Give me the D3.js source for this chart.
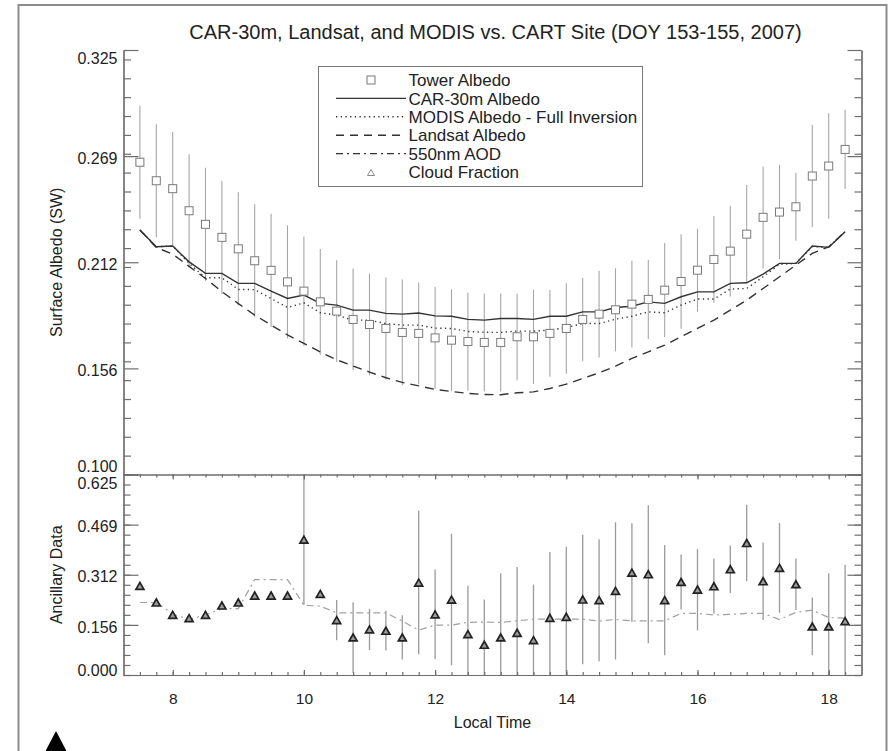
<!DOCTYPE html>
<html>
<head>
<meta charset="utf-8">
<script src="https://cdnjs.cloudflare.com/ajax/libs/d3/7.8.5/d3.min.js"></script>
<style>
    body { margin: 0; background: #fff; }
    text { font-family: "Liberation Sans", Arial, Helvetica, sans-serif; fill: #222; }
</style>
</head>
<body>
<script>
// Albedo comparison at the CART site, two stacked panels sharing local time

// Local time of each sample (hours)
var times = [7.5, 7.75, 8, 8.25, 8.5, 8.75, 9, 9.25, 9.5, 9.75, 10, 10.25, 10.5, 10.75, 11, 11.25,
    11.5, 11.75, 12, 12.25, 12.5, 12.75, 13, 13.25, 13.5, 13.75, 14, 14.25, 14.5, 14.75, 15, 15.25,
    15.5, 15.75, 16, 16.25, 16.5, 16.75, 17, 17.25, 17.5, 17.75, 18, 18.25];

// Top panel series
var towerAlbedo = [0.2655, 0.2557, 0.2515, 0.2398, 0.2326, 0.2257, 0.2196, 0.2133, 0.2082, 0.2021,
    0.1972, 0.1915, 0.1866, 0.1822, 0.1795, 0.1774, 0.1753, 0.1748, 0.1724, 0.1712, 0.1705, 0.1700,
    0.1700, 0.1730, 0.1730, 0.1748, 0.1774, 0.1822, 0.1850, 0.1873, 0.1903, 0.1928, 0.1977, 0.2023,
    0.2083, 0.2140, 0.2184, 0.2274, 0.2363, 0.2391, 0.2419, 0.2582, 0.2635, 0.2723];
var towerError = [0.030, 0.030, 0.030, 0.030, 0.030, 0.030, 0.030, 0.030, 0.030, 0.030,
    0.029, 0.028, 0.027, 0.027, 0.027, 0.027, 0.028, 0.027, 0.027, 0.027, 0.026, 0.026,
    0.026, 0.023, 0.025, 0.023, 0.024, 0.022, 0.023, 0.022, 0.023, 0.021, 0.025, 0.025,
    0.022, 0.023, 0.024, 0.026, 0.027, 0.025, 0.018, 0.027, 0.028, 0.021];
var carAlbedo = [0.2296, 0.2207, 0.2211, 0.2127, 0.2066, 0.2066, 0.2013, 0.2013, 0.1972, 0.1933,
    0.1951, 0.1907, 0.1898, 0.1871, 0.1871, 0.1854, 0.1850, 0.1856, 0.1841, 0.1839, 0.1822, 0.1818,
    0.1827, 0.1827, 0.1822, 0.1839, 0.1839, 0.1862, 0.1862, 0.1885, 0.1892, 0.1915, 0.1907, 0.1942,
    0.1968, 0.1968, 0.2013, 0.2016, 0.2062, 0.2119, 0.2119, 0.2211, 0.2204, 0.2287];
var modisAlbedo = [0.2296, 0.2207, 0.2211, 0.2119, 0.2043, 0.2043, 0.1981, 0.1980, 0.1933, 0.1885,
    0.1910, 0.1857, 0.1845, 0.1818, 0.1818, 0.1800, 0.1792, 0.1792, 0.1776, 0.1774, 0.1758, 0.1754,
    0.1753, 0.1760, 0.1760, 0.1765, 0.1779, 0.1800, 0.1800, 0.1823, 0.1839, 0.1862, 0.1857, 0.1898,
    0.1930, 0.1930, 0.1983, 0.1986, 0.2048, 0.2114, 0.2119, 0.2208, 0.2204, 0.2287];
var landsatAlbedo = [0.2296, 0.2203, 0.2168, 0.2103, 0.2039, 0.1969, 0.1906, 0.1845, 0.1792, 0.1740,
    0.1695, 0.1649, 0.1608, 0.1575, 0.1543, 0.1513, 0.1488, 0.1470, 0.1451, 0.1440, 0.1430, 0.1424,
    0.1423, 0.1433, 0.1438, 0.1456, 0.1479, 0.1509, 0.1539, 0.1574, 0.1615, 0.1650, 0.1686, 0.1730,
    0.1774, 0.1818, 0.1871, 0.1924, 0.1986, 0.2048, 0.2110, 0.2172, 0.2207, 0.2287];

// Bottom panel series
var aod550 = [0.226, 0.226, 0.190, 0.173, 0.187, 0.207, 0.207, 0.2975, 0.2975, 0.2975,
    0.2177, 0.2146, 0.1938, 0.1938, 0.1938, 0.1938, 0.168, 0.140, 0.1555, 0.1555, 0.164, 0.165,
    0.164, 0.169, 0.174, 0.174, 0.174, 0.174, 0.168, 0.173, 0.169, 0.169, 0.169, 0.192,
    0.192, 0.187, 0.189, 0.192, 0.192, 0.173, 0.195, 0.202, 0.179, 0.177];
var cloudFraction = [0.2778, 0.226, 0.1876, 0.1772, 0.1876, 0.2166, 0.226, 0.2477, 0.2477, 0.2477,
    0.4219, 0.2529, 0.171, 0.117, 0.142, 0.138, 0.117, 0.288, 0.189, 0.235, 0.1275, 0.0943,
    0.117, 0.1316, 0.1088, 0.1783, 0.1814, 0.2353, 0.2332, 0.2622, 0.3192, 0.314, 0.2332, 0.290,
    0.2664, 0.2767, 0.3296, 0.4115, 0.2923, 0.3338, 0.283, 0.1513, 0.1513, 0.1679];
var cloudError = [0, 0, 0, 0, 0, 0, 0, 0, 0, 0,
    0.204, 0, 0.063, 0.11, 0.064, 0.062, 0.069, 0.224, 0.14, 0.205, 0.151, 0.141,
    0.2, 0.205, 0.173, 0.205, 0.218, 0.202, 0.19, 0.214, 0.154, 0.215, 0.172, 0.086,
    0.127, 0.086, 0.074, 0.119, 0.121, 0.14, 0.08, 0.09, 0.166, 0.176];

// Axis ticks and labels
var xTicks = [8, 10, 12, 14, 16, 18];
var topTicks = [0.1, 0.15625, 0.2125, 0.26875, 0.325];
var topTickLabels = ["0.100", "0.156", "0.212", "0.269", "0.325"];
var bottomTicks = [0, 0.15625, 0.3125, 0.46875, 0.625];
var bottomTickLabels = ["0.000", "0.156", "0.312", "0.469", "0.625"];
var legendLabels = ["Tower Albedo", "CAR-30m Albedo", "MODIS Albedo - Full Inversion",
    "Landsat Albedo", "550nm AOD", "Cloud Fraction"];

var W = 892, H = 751;
var plot = { left: 123.5, right: 861.5, top: 50, mid: 474.5, bottom: 675 };
var axisColor = "#6e6e6e";

var svg = d3.select("body").append("svg")
    .attr("width", W)
    .attr("height", H);

// Scales
var x = d3.scaleLinear().domain([7.25, 18.5]).range([plot.left, plot.right]);
var yTop = d3.scaleLinear().domain([0.1, 0.325]).range([plot.mid, plot.top]);
var yBot = d3.scaleLinear().domain([0, 0.625]).range([plot.bottom, plot.mid]);

// row index for every sample, so the marks can read all the arrays
var rows = d3.range(times.length);

drawFrame();
drawTitle();
drawTopPanel();
drawBottomPanel();
drawAxes();
drawLegend();

// Outer page frame and the cut off icon in the corner
function drawFrame() {
    svg.append("rect")
        .attr("x", 18.5).attr("y", 5)
        .attr("width", 868).attr("height", 780)
        .attr("fill", "none")
        .attr("stroke", "#8c8c8c")
        .attr("stroke-width", 2);
    svg.append("path")
        .attr("d", "M56,731 L44.5,753 L67.5,753 Z")
        .attr("fill", "#000");
}

function drawTitle() {
    svg.append("text")
        .attr("x", 495.5)
        .attr("y", 39)
        .attr("text-anchor", "middle")
        .attr("font-size", "20px")
        .text("CAR-30m, Landsat, and MODIS vs. CART Site (DOY 153-155, 2007)");
}

// Triangle path centred on 0,0
function trianglePath(w, h) {
    return "M0," + (-h / 2) + " L" + (w / 2) + "," + (h / 2) + " L" + (-w / 2) + "," + (h / 2) + " Z";
}

function drawTopPanel() {
    var g = svg.append("g");

    // error bars of the tower measurements
    g.selectAll(".tower-err")
        .data(rows)
        .enter().append("line")
        .attr("x1", function (i) { return x(times[i]); })
        .attr("x2", function (i) { return x(times[i]); })
        .attr("y1", function (i) { return yTop(Math.min(0.325, towerAlbedo[i] + towerError[i])); })
        .attr("y2", function (i) { return yTop(Math.max(0.1, towerAlbedo[i] - towerError[i])); })
        .attr("stroke", "#a6a6a6")
        .attr("stroke-width", 1.1);

    var line = function (values) {
        return d3.line()
            .x(function (i) { return x(times[i]); })
            .y(function (i) { return yTop(values[i]); })(rows);
    };

    g.append("path").attr("d", line(landsatAlbedo))
        .attr("fill", "none").attr("stroke", "#333").attr("stroke-width", 1.4)
        .attr("stroke-dasharray", "9,6");
    g.append("path").attr("d", line(modisAlbedo))
        .attr("fill", "none").attr("stroke", "#333").attr("stroke-width", 1.4)
        .attr("stroke-dasharray", "1.3,3.4");
    g.append("path").attr("d", line(carAlbedo))
        .attr("fill", "none").attr("stroke", "#333").attr("stroke-width", 1.4);

    // tower squares
    g.selectAll(".tower")
        .data(rows)
        .enter().append("rect")
        .attr("x", function (i) { return x(times[i]) - 4; })
        .attr("y", function (i) { return yTop(towerAlbedo[i]) - 4; })
        .attr("width", 8)
        .attr("height", 8)
        .attr("fill", "#fff")
        .attr("stroke", "#7a7a7a")
        .attr("stroke-width", 1);
}

function drawBottomPanel() {
    var g = svg.append("g");

    // cloud fraction error bars, clipped to the panel
    g.selectAll(".cloud-err")
        .data(rows.filter(function (i) { return cloudError[i] > 0; }))
        .enter().append("line")
        .attr("x1", function (i) { return x(times[i]); })
        .attr("x2", function (i) { return x(times[i]); })
        .attr("y1", function (i) { return yBot(Math.min(0.625, cloudFraction[i] + cloudError[i])); })
        .attr("y2", function (i) { return yBot(Math.max(0, cloudFraction[i] - cloudError[i])); })
        .attr("stroke", "#9a9a9a")
        .attr("stroke-width", 1.3);

    g.append("path")
        .attr("d", d3.line()
            .x(function (i) { return x(times[i]); })
            .y(function (i) { return yBot(aod550[i]); })(rows))
        .attr("fill", "none")
        .attr("stroke", "#a0a0a0")
        .attr("stroke-width", 1.2)
        .attr("stroke-dasharray", "7,4,2,4");

    g.selectAll(".cloud")
        .data(rows)
        .enter().append("path")
        .attr("transform", function (i) { return "translate(" + x(times[i]) + "," + yBot(cloudFraction[i]) + ")"; })
        .attr("d", trianglePath(8, 7))
        .attr("fill", "#9c9c9c")
        .attr("stroke", "#222")
        .attr("stroke-width", 1.7)
        .attr("stroke-linejoin", "miter");
}

// Shift IDL-style labels: inner ones slightly below the tick, end ones pulled inward
function nudgeLabels(sel, n, first, last) {
    sel.selectAll(".tick text")
        .attr("dy", function (d, i) {
            if (i === 0) return first;
            if (i === n - 1) return last;
            return "0.45em";
        });
}

function drawAxes() {
    // left axes
    var topLeft = svg.append("g")
        .attr("transform", "translate(" + plot.left + ",0)")
        .call(d3.axisLeft(yTop).tickValues(topTicks).tickSize(-15).tickSizeOuter(0).tickPadding(6)
            .tickFormat(function (d, i) { return topTickLabels[i]; }));
    nudgeLabels(topLeft, topTicks.length, "-0.18em", "0.85em");
    svg.append("g")
        .attr("transform", "translate(" + plot.left + ",0)")
        .call(d3.axisLeft(yTop).ticks(20).tickSize(-7.5).tickSizeOuter(0).tickFormat(""));

    var botLeft = svg.append("g")
        .attr("transform", "translate(" + plot.left + ",0)")
        .call(d3.axisLeft(yBot).tickValues(bottomTicks).tickSize(-15).tickSizeOuter(0).tickPadding(6)
            .tickFormat(function (d, i) { return bottomTickLabels[i]; }));
    nudgeLabels(botLeft, bottomTicks.length, "0.0em", "0.9em");
    svg.append("g")
        .attr("transform", "translate(" + plot.left + ",0)")
        .call(d3.axisLeft(yBot).tickValues(d3.range(0, 0.626, 0.03125)).tickSize(-7).tickSizeOuter(0).tickFormat(""));

    // right axes, ticks only
    svg.append("g")
        .attr("transform", "translate(" + plot.right + ",0)")
        .call(d3.axisRight(yTop).tickValues(topTicks).tickSize(-14).tickSizeOuter(0).tickFormat(""));
    svg.append("g")
        .attr("transform", "translate(" + plot.right + ",0)")
        .call(d3.axisRight(yTop).ticks(20).tickSize(-7).tickSizeOuter(0).tickFormat(""));
    svg.append("g")
        .attr("transform", "translate(" + plot.right + ",0)")
        .call(d3.axisRight(yBot).tickValues(bottomTicks).tickSize(-14).tickSizeOuter(0).tickFormat(""));
    svg.append("g")
        .attr("transform", "translate(" + plot.right + ",0)")
        .call(d3.axisRight(yBot).tickValues(d3.range(0, 0.626, 0.03125)).tickSize(-7).tickSizeOuter(0).tickFormat(""));

    // shared x line between the panels, ticks pointing down into the lower panel
    svg.append("g")
        .attr("transform", "translate(0," + plot.mid + ")")
        .call(d3.axisTop(x).tickValues(xTicks).tickSize(-5).tickSizeOuter(0).tickFormat(""));
    svg.append("g")
        .attr("transform", "translate(0," + plot.mid + ")")
        .call(d3.axisTop(x).tickValues(d3.range(7.5, 18.5, 0.25)).tickSize(-3).tickSizeOuter(0).tickFormat(""));

    // bottom x axis with labels
    var xAxis = svg.append("g")
        .attr("transform", "translate(0," + plot.bottom + ")")
        .call(d3.axisBottom(x).tickValues(xTicks).tickSize(-5).tickSizeOuter(0).tickPadding(18)
            .tickFormat(d3.format("d")));
    svg.append("g")
        .attr("transform", "translate(0," + plot.bottom + ")")
        .call(d3.axisBottom(x).tickValues(d3.range(7.5, 18.5, 0.25)).tickSize(-3).tickSizeOuter(0).tickFormat(""));

    svg.selectAll(".domain, .tick line")
        .attr("stroke", axisColor)
        .attr("stroke-width", 1.2);
    svg.selectAll(".tick text")
        .attr("fill", "#222")
        .attr("font-family", "Liberation Sans, Arial, sans-serif")
        .attr("font-size", "16px");
    xAxis.selectAll(".tick text").attr("font-size", "15.5px");

    // axis titles
    svg.append("text")
        .attr("transform", "translate(56," + ((plot.top + plot.mid) / 2) + ") rotate(-90)")
        .attr("text-anchor", "middle")
        .attr("dy", "0.36em")
        .attr("font-size", "16px")
        .text("Surface Albedo (SW)");
    svg.append("text")
        .attr("transform", "translate(56," + ((plot.mid + plot.bottom) / 2) + ") rotate(-90)")
        .attr("text-anchor", "middle")
        .attr("dy", "0.36em")
        .attr("font-size", "16px")
        .text("Ancillary Data");
    svg.append("text")
        .attr("x", (plot.left + plot.right) / 2)
        .attr("y", 727.5)
        .attr("text-anchor", "middle")
        .attr("font-size", "16px")
        .text("Local Time");
}

function drawLegend() {
    var g = svg.append("g");
    g.append("rect")
        .attr("x", 318.5).attr("y", 66.5)
        .attr("width", 324).attr("height", 120)
        .attr("fill", "#fff")
        .attr("stroke", "#777")
        .attr("stroke-width", 1);

    var rowY = d3.scalePoint().domain(legendLabels).range([80, 172]);
    var x0 = 336, x1 = 406, xm = 371;

    legendLabels.forEach(function (label, i) {
        var yy = rowY(label);
        if (i === 0) {
            g.append("rect").attr("x", xm - 4).attr("y", yy - 4).attr("width", 8).attr("height", 8)
                .attr("fill", "none").attr("stroke", "#7a7a7a");
        } else if (i === 5) {
            g.append("path").attr("transform", "translate(" + xm + "," + (yy + 0.5) + ")")
                .attr("d", trianglePath(7, 6)).attr("fill", "none").attr("stroke", "#8a8a8a");
        } else {
            var dash = [null, null, "1.3,3.4", "8,6", "7,4,2,4"][i];
            g.append("line").attr("x1", x0).attr("x2", x1).attr("y1", yy).attr("y2", yy)
                .attr("stroke", "#333").attr("stroke-width", 1.4)
                .attr("stroke-dasharray", dash);
        }
        g.append("text")
            .attr("x", 408.5)
            .attr("y", yy)
            .attr("dy", "0.36em")
            .attr("font-size", "17px")
            .text(label);
    });
}
</script>
</body>
</html>
